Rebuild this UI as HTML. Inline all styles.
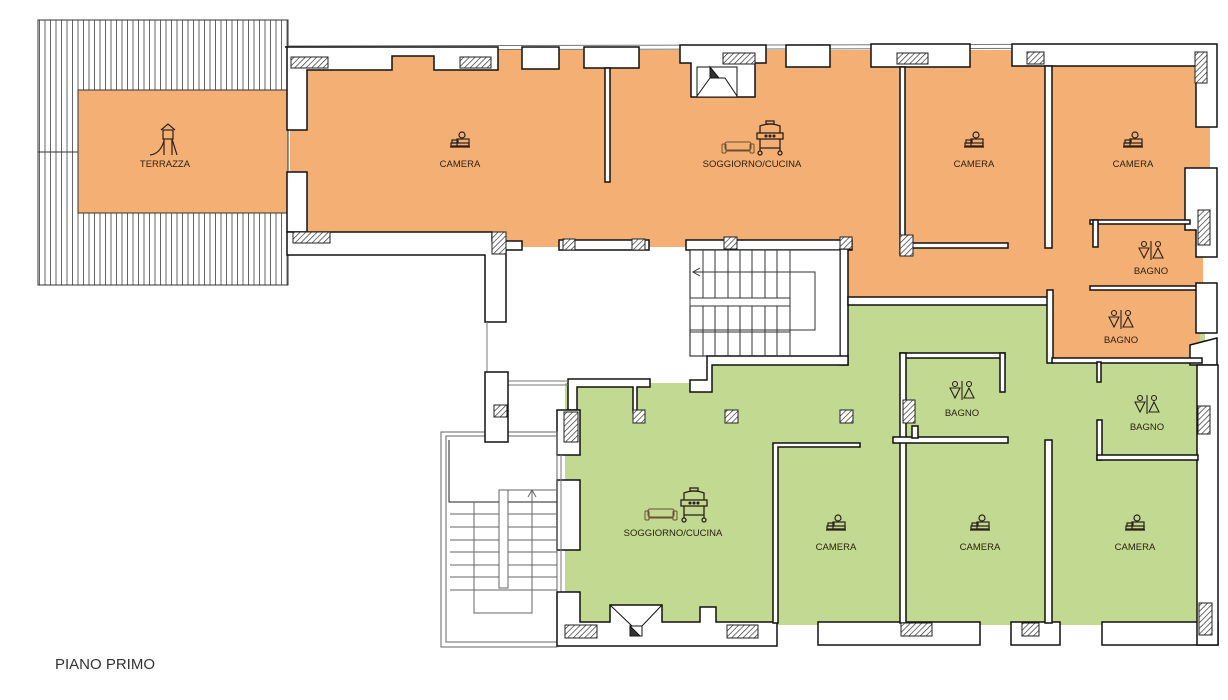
<!DOCTYPE html>
<html><head><meta charset="utf-8"><style>
html,body{margin:0;padding:0;background:#fff;}
svg{display:block;}
text{font-family:"Liberation Sans",sans-serif;fill:#2a1e12;}
</style></head><body>
<svg width="1228" height="700" viewBox="0 0 1228 700" xmlns="http://www.w3.org/2000/svg">
<defs>
<pattern id="h" width="4" height="4" patternUnits="userSpaceOnUse" patternTransform="rotate(45)">
<rect width="4" height="4" fill="#fff"/><line x1="0" y1="0" x2="0" y2="4" stroke="#333" stroke-width="1.4"/>
</pattern>
<pattern id="t" width="5.5" height="10" patternUnits="userSpaceOnUse">
<rect width="5.5" height="10" fill="#fff"/><line x1="1" y1="0" x2="1" y2="10" stroke="#555" stroke-width="0.9"/>
</pattern>
<g id="bed" fill="none" stroke="#2a2018" stroke-width="1.2">
<circle cx="2" cy="-9" r="3"/><rect x="-8" y="-4" width="6" height="3"/><rect x="-3" y="-5" width="12" height="7"/><rect x="-9" y="-1" width="18" height="3"/><line x1="-10" y1="3" x2="10" y2="3"/>
</g>
<g id="wc" fill="none" stroke="#2a2018" stroke-width="1.1">
<circle cx="-7" cy="-12" r="2.5"/><path d="M-12,-8 L-2,-8 L-7,2 Z"/><line x1="0" y1="-15" x2="0" y2="4"/><circle cx="7" cy="-12" r="2.5"/><path d="M7,-8 L2,2 L12,2 Z"/>
</g>
<g id="sofa" fill="none" stroke="#6a5030" stroke-width="1">
<rect x="-13" y="-6" width="26" height="8" rx="2"/><rect x="-16" y="-4" width="4" height="9" rx="1"/><rect x="12" y="-4" width="4" height="9" rx="1"/><line x1="-12" y1="3" x2="12" y2="3"/>
</g>
<g id="grill" fill="none" stroke="#2a2018" stroke-width="1.3">
<rect x="-4" y="-20" width="8" height="3"/><path d="M-10,-8 L-10,-15 Q0,-19 10,-15 L10,-8"/><rect x="-13" y="-8" width="26" height="6"/><circle cx="-4" cy="-5" r="0.9" fill="#2a2018"/><circle cx="0" cy="-5" r="0.9" fill="#2a2018"/><circle cx="4" cy="-5" r="0.9" fill="#2a2018"/><line x1="-10" y1="-2" x2="-10" y2="10"/><line x1="10" y1="-2" x2="10" y2="10"/><line x1="-10" y1="7" x2="10" y2="7"/><circle cx="-10" cy="12" r="2"/><circle cx="10" cy="12" r="2"/>
</g>
</defs>

<rect x="38" y="20" width="250" height="265" fill="url(#t)" stroke="#333" stroke-width="1"/>
<line x1="38" y1="152" x2="78" y2="152" stroke="#333"/>
<rect x="78" y="90" width="210" height="123" fill="#F4B074" stroke="#333" stroke-width="1"/>

<rect x="290" y="50" width="920" height="197" fill="#F4B074"/>
<rect x="848" y="240" width="355" height="60" fill="#F4B074"/>
<rect x="565" y="383" width="640" height="242" fill="#C2D991"/>
<rect x="707" y="365" width="145" height="25" fill="#C2D991"/>
<rect x="848" y="303" width="357" height="85" fill="#C2D991"/>
<rect x="1050" y="297" width="150" height="66" fill="#F4B074"/>

<g fill="#fff" stroke="#111" stroke-width="1.5">
<line x1="288" y1="46" x2="1215" y2="44" stroke="#777" stroke-width="1"/>
<line x1="288" y1="50" x2="1215" y2="48" stroke="#777" stroke-width="1"/>
<path d="M285 47H498V70H434V56H392V70H307V130H287V47Z"/>
<path d="M287 172H307V232H287Z"/>
<rect x="522" y="47" width="37" height="22"/>
<rect x="584" y="47" width="55" height="21"/>
<rect x="605" y="68" width="5" height="114"/>
<path d="M680 45H766V63H755V97H691V63H680Z"/>
<rect x="786" y="45" width="44" height="22"/>
<rect x="871" y="44" width="99" height="23"/>
<rect x="900" y="67" width="5" height="188"/>
<rect x="905" y="243" width="103" height="5"/>
<path d="M1012 44H1217V127H1196V66H1012Z"/>
<rect x="1045" y="66" width="7" height="182"/>
<path d="M1185 168H1217V257H1196V230H1185Z"/>
<rect x="1090" y="220" width="100" height="4"/>
<rect x="1093" y="220" width="5" height="27"/>
<rect x="1090" y="286" width="108" height="4"/>
<path d="M1196 283H1217V333H1196Z"/>
<path d="M1190 345L1217 338V365H1190Z"/>
<path d="M287 232H492V241H522V250H506V322H485V255H287Z"/>
<rect x="559" y="240" width="90" height="10"/>
<rect x="686" y="240" width="166" height="10"/>
<rect x="840" y="249" width="8" height="116"/>
<rect x="848" y="297" width="204" height="8"/>
<rect x="1047" y="290" width="6" height="73"/>
<rect x="1052" y="358" width="150" height="5"/>
<rect x="690" y="250" width="150" height="106" fill="#fff" stroke-width="1"/>
<path d="M707 356H848V365H712V392H690V380H707Z"/>
</g>
<g stroke="#333" stroke-width="1" fill="none">
<path d="M703 250V356M715 250V356M728 250V356M740 250V356M752 250V356M765 250V356M777 250V356M790 250V356"/>
<rect x="690" y="298" width="100" height="8" fill="#fff"/>
<path d="M693 272H815V330H690"/>
<path d="M700 268L693 272L700 276"/>
<line x1="690" y1="332" x2="790" y2="332"/>
</g>
<g fill="#fff" stroke="#111" stroke-width="1.5">
<path d="M568 379H650V387H637V412H633V387H577V410H568Z"/>
<rect x="557" y="410" width="23" height="45"/>
<rect x="557" y="480" width="23" height="70"/>
</g>
<line x1="487" y1="322" x2="487" y2="372" stroke="#777"/>
<line x1="508" y1="381" x2="568" y2="381" stroke="#777"/>
<line x1="508" y1="385" x2="568" y2="385" stroke="#777"/>
<line x1="561" y1="455" x2="561" y2="592" stroke="#777"/>

<g fill="none" stroke="#666" stroke-width="1">
<rect x="441" y="432" width="116" height="215"/>
<rect x="446" y="436" width="111" height="206"/>
<path d="M449 440V502H557" stroke="#222"/>
<path d="M450 514H557M450 527H557M450 540H557M450 552H557M450 565H557M450 577H557M450 590H557"/>
<rect x="499" y="490" width="9" height="98" fill="#fff"/>
<path d="M474 502V613H532V490"/>
<path d="M528 497L532 490L536 497"/>
<line x1="508" y1="490" x2="557" y2="490"/>
</g>
<rect x="485" y="372" width="23" height="70" fill="#fff" stroke="#111" stroke-width="1.5"/>

<g fill="#fff" stroke="#111" stroke-width="1.5">
<path d="M557 592H580V622H610V605H662V622H700V607H716V622H777V646H557Z"/>
<path d="M773 443H860V447H778V623H773Z"/>
<rect x="818" y="622" width="162" height="23"/>
<rect x="1011" y="622" width="49" height="23"/>
<rect x="1102" y="622" width="116" height="23"/>
<rect x="1197" y="365" width="21" height="280"/>
<rect x="900" y="353" width="105" height="5"/>
<rect x="1000" y="353" width="5" height="39"/>
<rect x="900" y="353" width="6" height="270"/>
<rect x="893" y="437" width="115" height="6"/>
<rect x="912" y="426" width="6" height="12"/>
<rect x="1045" y="440" width="7" height="183"/>
<rect x="1097" y="420" width="5" height="40"/>
<rect x="1097" y="455" width="101" height="5"/>
<rect x="1097" y="362" width="4" height="20"/>
</g>

<g fill="url(#h)" stroke="#222" stroke-width="1">
<rect x="291" y="57" width="37" height="11"/><rect x="460" y="57" width="31" height="11"/>
<rect x="293" y="232" width="37" height="11"/><rect x="492" y="232" width="14" height="22"/>
<rect x="563" y="239" width="12" height="11"/><rect x="632" y="239" width="13" height="11"/>
<rect x="724" y="237" width="13" height="12"/><rect x="840" y="237" width="12" height="12"/>
<rect x="723" y="53" width="32" height="11"/>
<rect x="897" y="53" width="31" height="11"/><rect x="1027" y="52" width="17" height="12"/>
<rect x="1195" y="52" width="12" height="31"/>
<rect x="900" y="235" width="13" height="21"/>
<rect x="1198" y="210" width="12" height="35"/>
<rect x="903" y="400" width="12" height="23"/>
<rect x="1198" y="406" width="12" height="28"/>
<rect x="494" y="405" width="13" height="12"/>
<rect x="564" y="412" width="14" height="30"/>
<rect x="633" y="410" width="12" height="13"/><rect x="725" y="410" width="13" height="13"/><rect x="840" y="410" width="13" height="13"/>
<rect x="565" y="625" width="32" height="13"/><rect x="727" y="625" width="31" height="13"/>
<rect x="901" y="623" width="31" height="13"/><rect x="1022" y="623" width="17" height="13"/>
<rect x="1199" y="603" width="13" height="32"/>
</g>
<g fill="none" stroke="#111" stroke-width="1">
<rect x="697" y="67" width="40" height="30" fill="#fff"/>
<path d="M697 96L710 78H725L737 96"/>
<path d="M710 67V78H719L710 67Z" fill="#333"/>
<path d="M610 605L632 626H642L662 605"/><path d="M630 626H642V636H630Z" fill="#fff"/><path d="M630 626L640 636H630Z" fill="#333"/>
</g>

<g fill="none" stroke="#2a2018" stroke-width="1.2">
<rect x="163" y="130" width="10" height="9"/><path d="M161 130L168 124L175 130"/><line x1="164" y1="139" x2="164" y2="155"/><line x1="172" y1="139" x2="172" y2="155"/><path d="M150 155Q160 154 164 141"/><path d="M172 139L177 155"/>
</g>

<g font-size="9.5" text-anchor="middle">
<text x="165" y="167">TERRAZZA</text>
<use href="#bed" x="460" y="144"/><text x="460" y="167">CAMERA</text>
<use href="#sofa" x="738" y="148"/><use href="#grill" x="770" y="141"/><text x="752" y="167">SOGGIORNO/CUCINA</text>
<use href="#bed" x="974" y="144"/><text x="974" y="167">CAMERA</text>
<use href="#bed" x="1133" y="144"/><text x="1133" y="167">CAMERA</text>
<use href="#wc" x="1151" y="256"/><text x="1151" y="274">BAGNO</text>
<use href="#wc" x="1121" y="325"/><text x="1121" y="343">BAGNO</text>
<use href="#wc" x="962" y="396"/><text x="962" y="416">BAGNO</text>
<use href="#wc" x="1147" y="410"/><text x="1147" y="430">BAGNO</text>
<use href="#sofa" x="661" y="515"/><use href="#grill" x="694" y="508"/><text x="673" y="536">SOGGIORNO/CUCINA</text>
<use href="#bed" x="836" y="527"/><text x="836" y="550">CAMERA</text>
<use href="#bed" x="980" y="527"/><text x="980" y="550">CAMERA</text>
<use href="#bed" x="1135" y="527"/><text x="1135" y="550">CAMERA</text>
</g>
<text x="55" y="669" font-size="15" style="fill:#333">PIANO PRIMO</text>
</svg>
</body></html>
